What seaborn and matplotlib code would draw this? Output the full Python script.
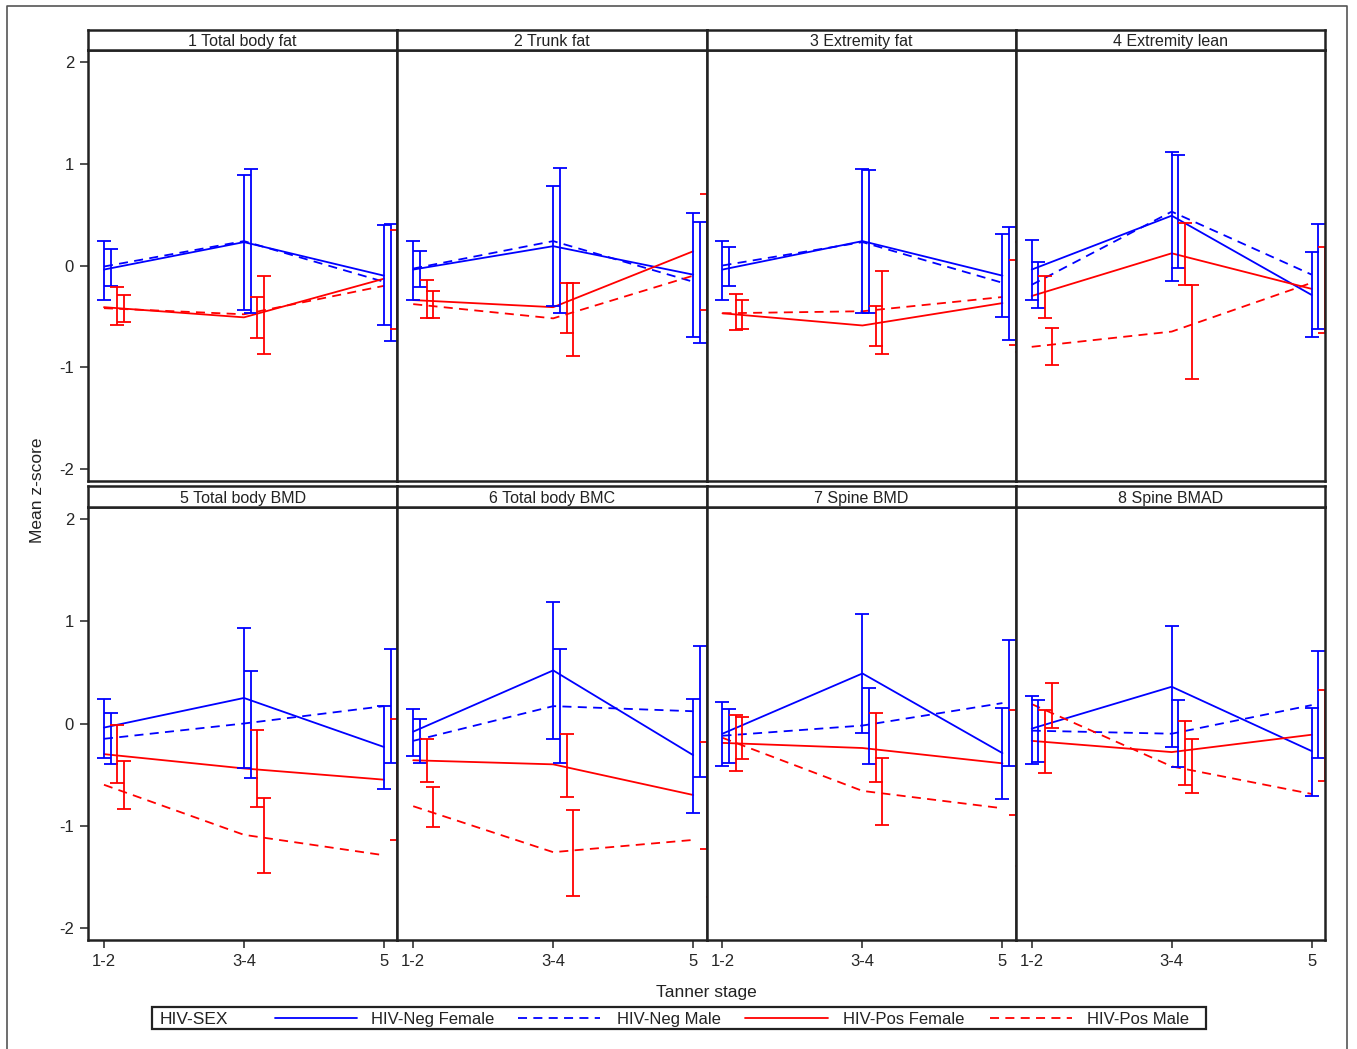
import numpy as np
import pandas as pd
import seaborn as sns
import matplotlib
matplotlib.use('Agg')
import matplotlib.pyplot as plt
from matplotlib.lines import Line2D
from matplotlib.patches import Rectangle

# panel titles, x categories, groups
panels = ['1 Total body fat', '2 Trunk fat', '3 Extremity fat', '4 Extremity lean',
          '5 Total body BMD', '6 Total body BMC', '7 Spine BMD', '8 Spine BMAD']
stages = ['1-2', '3-4', '5']
groups = ['HIV-Neg Female', 'HIV-Neg Male', 'HIV-Pos Female', 'HIV-Pos Male']

# one row per panel, values for stages 1-2, 3-4, 5
neg_f_mean = [[-0.04, 0.23, -0.10], [-0.04, 0.19, -0.09], [-0.04, 0.24, -0.10], [-0.04, 0.49, -0.29],
              [-0.04, 0.25, -0.23], [-0.08, 0.52, -0.31], [-0.10, 0.49, -0.29], [-0.05, 0.36, -0.27]]
neg_f_lo = [[-0.34, -0.44, -0.59], [-0.34, -0.40, -0.70], [-0.34, -0.47, -0.51], [-0.34, -0.15, -0.70],
            [-0.34, -0.44, -0.64], [-0.32, -0.15, -0.88], [-0.42, -0.09, -0.74], [-0.40, -0.23, -0.71]]
neg_f_hi = [[0.24, 0.89, 0.40], [0.24, 0.78, 0.52], [0.24, 0.95, 0.31], [0.25, 1.12, 0.13],
            [0.24, 0.94, 0.17], [0.14, 1.19, 0.24], [0.21, 1.07, 0.15], [0.27, 0.95, 0.15]]

neg_m_mean = [[-0.01, 0.24, -0.16], [-0.03, 0.24, -0.16], [0.00, 0.23, -0.17], [-0.19, 0.53, -0.09],
              [-0.15, 0.00, 0.17], [-0.17, 0.17, 0.12], [-0.12, -0.02, 0.20], [-0.07, -0.10, 0.18]]
neg_m_lo = [[-0.20, -0.47, -0.74], [-0.21, -0.47, -0.76], [-0.20, -0.47, -0.73], [-0.42, -0.02, -0.62],
            [-0.40, -0.53, -0.39], [-0.39, -0.39, -0.52], [-0.39, -0.40, -0.42], [-0.38, -0.43, -0.34]]
neg_m_hi = [[0.16, 0.95, 0.41], [0.14, 0.96, 0.43], [0.18, 0.94, 0.38], [0.03, 1.09, 0.41],
            [0.10, 0.51, 0.73], [0.04, 0.73, 0.76], [0.14, 0.35, 0.82], [0.23, 0.23, 0.71]]

pos_f_mean = [[-0.41, -0.51, -0.13], [-0.34, -0.41, 0.14], [-0.47, -0.59, -0.37], [-0.30, 0.12, -0.23],
              [-0.30, -0.44, -0.55], [-0.36, -0.40, -0.70], [-0.19, -0.24, -0.39], [-0.17, -0.28, -0.11]]
pos_f_lo = [[-0.59, -0.71, -0.62], [-0.52, -0.66, -0.44], [-0.63, -0.79, -0.78], [-0.52, -0.19, -0.66],
            [-0.58, -0.82, -1.14], [-0.57, -0.72, -1.23], [-0.47, -0.57, -0.90], [-0.48, -0.60, -0.56]]
pos_f_hi = [[-0.21, -0.31, 0.35], [-0.14, -0.17, 0.70], [-0.28, -0.40, 0.05], [-0.10, 0.42, 0.18],
            [-0.01, -0.06, 0.04], [-0.15, -0.10, -0.18], [0.08, 0.10, 0.13], [0.13, 0.02, 0.33]]

pos_m_mean = [[-0.42, -0.48, -0.20], [-0.38, -0.52, -0.10], [-0.47, -0.45, -0.31], [-0.80, -0.65, -0.17],
              [-0.60, -1.09, -1.29], [-0.81, -1.26, -1.14], [-0.14, -0.66, -0.83], [0.19, -0.42, -0.69]]
pos_m_lo = [[-0.56, -0.87, -0.75], [-0.52, -0.89, -0.65], [-0.62, -0.87, -0.85], [-0.98, -1.12, -0.70],
            [-0.84, -1.46, -1.90], [-1.01, -1.69, -1.70], [-0.35, -0.99, -1.40], [-0.04, -0.68, -1.20]]
pos_m_hi = [[-0.29, -0.10, 0.35], [-0.25, -0.17, 0.45], [-0.34, -0.05, 0.23], [-0.61, -0.19, 0.36],
            [-0.37, -0.73, -0.68], [-0.62, -0.85, -0.58], [0.06, -0.34, -0.26], [0.40, -0.15, -0.18]]

series = {
    'HIV-Neg Female': (neg_f_mean, neg_f_lo, neg_f_hi),
    'HIV-Neg Male': (neg_m_mean, neg_m_lo, neg_m_hi),
    'HIV-Pos Female': (pos_f_mean, pos_f_lo, pos_f_hi),
    'HIV-Pos Male': (pos_m_mean, pos_m_lo, pos_m_hi),
}

rows = []
for g in groups:
    m, lo, hi = series[g]
    for p, title in enumerate(panels):
        for s in range(len(stages)):
            rows.append(dict(panel=title, group=g, stage=s,
                             mean=m[p][s], lo=lo[p][s], hi=hi[p][s]))
df = pd.DataFrame(rows)

sns.set_style('white')
plt.rcParams['font.family'] = ['Liberation Sans', 'DejaVu Sans']

palette = dict(zip(groups, ['#0000ff', '#0000ff', '#ff0000', '#ff0000']))
dashes = dict(zip(groups, ['', (5, 3.5), '', (5, 3.5)]))
offsets = dict(zip(groups, [0.0, 0.048, 0.095, 0.143]))

W, H = 1357, 1049
fig = plt.figure(figsize=(W / 100, H / 100), dpi=100)

left_px, right_px = 88, 1325
pw = (right_px - left_px) / 4
row_px = [(50, 481, 30), (507, 940, 486)]  # axes top, axes bottom, header top
frame = '#222222'

for i, title in enumerate(panels):
    r, c = divmod(i, 4)
    top, bot, htop = row_px[r]
    x0 = (left_px + c * pw) / W
    ax = fig.add_axes([x0, 1 - bot / H, pw / W, (bot - top) / H])
    sub = df[df.panel == title]
    sns.lineplot(data=sub, x='stage', y='mean', hue='group', style='group',
                 palette=palette, dashes=dashes, hue_order=groups, style_order=groups,
                 errorbar=None, legend=False, lw=1.3, ax=ax)
    for g in groups:
        gs = sub[sub.group == g]
        ax.errorbar(gs.stage + offsets[g], gs['mean'],
                    yerr=[gs['mean'] - gs['lo'], gs['hi'] - gs['mean']],
                    fmt='none', ecolor=palette[g], elinewidth=1.3,
                    capsize=4.8, capthick=1.3)
    ax.set_xlim(-0.114, 2.095)
    ax.set_ylim(-2.12, 2.12)
    ax.set_xlabel('')
    ax.set_ylabel('')
    for sp in ax.spines.values():
        sp.set_linewidth(1.8)
        sp.set_color(frame)
    if c == 0:
        ax.set_yticks([-2, -1, 0, 1, 2])
        ax.set_yticklabels(['-2', '-1', '0', '1', '2'])
    else:
        ax.set_yticks([])
    if r == 1:
        ax.set_xticks([0, 1, 2])
        ax.set_xticklabels(stages)
    else:
        ax.set_xticks([])
    ax.tick_params(direction='out', length=6, width=1.2, color='#333333',
                   labelsize=12, pad=4, left=(c == 0), bottom=(r == 1))

    hax = fig.add_axes([x0, 1 - top / H, pw / W, (top - htop) / H])
    hax.set_xticks([])
    hax.set_yticks([])
    for sp in hax.spines.values():
        sp.set_linewidth(1.8)
        sp.set_color(frame)
    hax.text(0.5, 0.5, title, ha='center', va='center_baseline', fontsize=11.5,
             color='#222222', transform=hax.transAxes)

fig.text(37 / W, 1 - 490 / H, 'Mean z-score', rotation=90, ha='center', va='center',
         fontsize=12.5, color='#222222')
fig.text(706 / W, 1 - 992 / H, 'Tanner stage', ha='center', va='center',
         fontsize=12.5, color='#222222')

# legend box
fig.add_artist(Rectangle((152 / W, 1 - 1029 / H), (1206 - 152) / W, 22 / H,
                         transform=fig.transFigure, fill=False, lw=1.6, ec=frame))
fig.text(160 / W, 1 - 1018 / H, 'HIV-SEX', ha='left', va='center_baseline', fontsize=12.5, color='#222222')
leg_lines = [(275, 357, 371), (518, 600, 617), (745, 828, 843), (990, 1072, 1087)]
for g, (xa, xb, xt) in zip(groups, leg_lines):
    ls = '-' if dashes[g] == '' else (0, dashes[g])
    fig.add_artist(Line2D([xa / W, xb / W], [1 - 1018 / H, 1 - 1018 / H],
                          transform=fig.transFigure, color=palette[g], lw=1.3, linestyle=ls))
    fig.text(xt / W, 1 - 1018 / H, g, ha='left', va='center_baseline', fontsize=12, color='#222222')

# outer frame
fig.add_artist(Line2D([7 / W, 7 / W, 1347 / W, 1347 / W], [0, 1 - 6 / H, 1 - 6 / H, 0],
                      transform=fig.transFigure, color='#555555', lw=1.2))

fig.savefig('out.png', dpi=100)
